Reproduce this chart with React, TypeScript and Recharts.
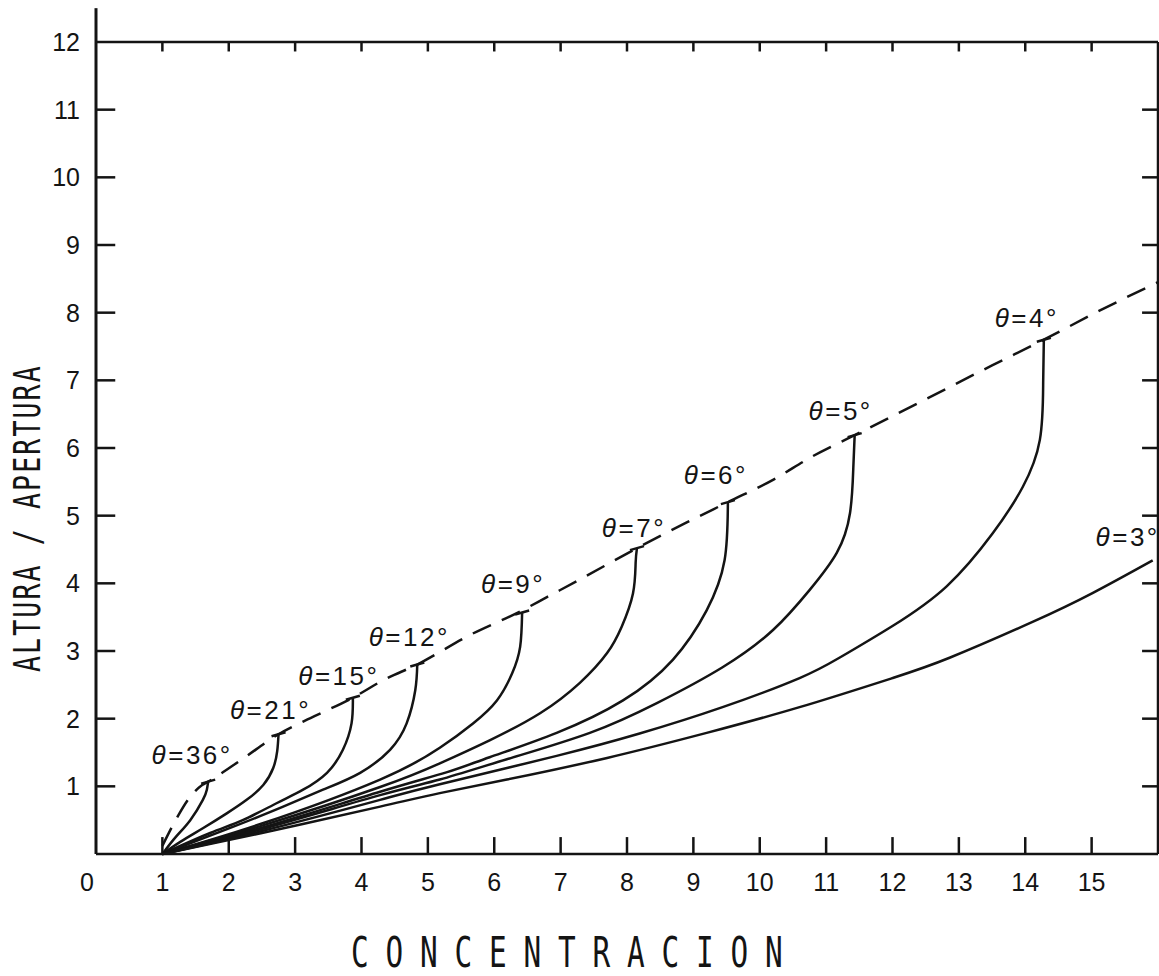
import React from 'react';
import { LineChart, Line, XAxis, YAxis, ReferenceLine } from 'recharts';

// ---- tick values ----
const X_TICKS = [0, 1, 2, 3, 4, 5, 6, 7, 8, 9, 10, 11, 12, 13, 14, 15, 16];
const X_INNER_TICKS = [1, 2, 3, 4, 5, 6, 7, 8, 9, 10, 11, 12, 13, 14, 15];
const Y_TICKS = [0, 1, 2, 3, 4, 5, 6, 7, 8, 9, 10, 11, 12];
const Y_INNER_TICKS = [1, 2, 3, 4, 5, 6, 7, 8, 9, 10, 11];

const X_TITLE = 'CONCENTRACION';
const Y_TITLE = 'ALTURA / APERTURA';

// ---- dashed envelope ----
const ENVELOPE_X = [1.0, 1.2, 1.4, 1.6, 1.69, 2.2, 2.75, 3.3, 3.87, 4.35, 4.84, 5.6, 6.42, 6.8, 7.24, 8.15, 8.9, 9.52, 10.2, 10.8, 11.43, 12.5, 13.5, 14.28, 15.1, 16];
const ENVELOPE_Y = [0.12, 0.5, 0.82, 1.02, 1.07, 1.4, 1.77, 2.04, 2.31, 2.58, 2.8, 3.22, 3.6, 3.8, 4.03, 4.52, 4.9, 5.2, 5.53, 5.88, 6.19, 6.72, 7.22, 7.6, 8.02, 8.45];

// ---- solid curves, one per angle ----
const T36_X = [1, 1.2, 1.42, 1.61, 1.67, 1.69];
const T36_Y = [0, 0.25, 0.5, 0.8, 0.95, 1.07];

const T21_X = [1, 1.27, 1.61, 1.97, 2.27, 2.52, 2.67, 2.73, 2.75];
const T21_Y = [0, 0.18, 0.38, 0.6, 0.8, 1.02, 1.27, 1.52, 1.77];

const T15_X = [1, 1.72, 2.21, 2.72, 3.12, 3.48, 3.72, 3.85, 3.87];
const T15_Y = [0, 0.31, 0.5, 0.75, 0.95, 1.2, 1.54, 1.93, 2.31];

const T12_X = [1, 2.06, 2.82, 3.42, 3.98, 4.43, 4.68, 4.81, 4.84];
const T12_Y = [0, 0.4, 0.7, 0.95, 1.2, 1.54, 1.93, 2.42, 2.8];

const T9_X = [1, 2.5, 4.28, 5.18, 5.68, 6.04, 6.27, 6.39, 6.42];
const T9_Y = [0, 0.45, 1.1, 1.57, 1.93, 2.27, 2.67, 3.06, 3.57];

const T7_X = [1, 2.5, 4.28, 5.18, 5.93, 6.69, 7.29, 7.7, 7.92, 8.09, 8.13, 8.15];
const T7_Y = [0, 0.42, 0.99, 1.34, 1.68, 2.08, 2.53, 2.97, 3.36, 3.85, 4.3, 4.52];

const T6_X = [1, 2.5, 4.28, 5.29, 5.93, 6.94, 7.94, 8.69, 9.2, 9.47, 9.52];
const T6_Y = [0, 0.39, 0.92, 1.21, 1.43, 1.79, 2.27, 2.87, 3.6, 4.34, 5.2];

const T5_X = [1, 2.5, 4.28, 5.18, 6.19, 7.44, 8.45, 9.44, 10.2, 10.75, 11.16, 11.36, 11.41, 11.43];
const T5_Y = [0, 0.37, 0.87, 1.1, 1.4, 1.79, 2.23, 2.76, 3.31, 3.9, 4.45, 5.04, 5.72, 6.19];

const T4_X = [1, 2.5, 4.28, 5.18, 6.94, 8.19, 9.44, 10.6, 11.2, 12.0, 12.82, 13.51, 13.96, 14.22, 14.27, 14.28];
const T4_Y = [0, 0.34, 0.8, 1.03, 1.45, 1.78, 2.17, 2.6, 2.9, 3.37, 3.96, 4.74, 5.42, 6.12, 6.96, 7.6];

const T3_X = [1, 2.5, 4.28, 5.18, 6.19, 7.7, 9.2, 10.6, 12.0, 12.86, 14.11, 15.02, 15.92];
const T3_Y = [0, 0.31, 0.7, 0.9, 1.1, 1.42, 1.79, 2.17, 2.6, 2.9, 3.43, 3.86, 4.34];

const ANGLES = ['36', '21', '15', '12', '9', '7', '6', '5', '4', '3'];
const CURVE_XS = [T36_X, T21_X, T15_X, T12_X, T9_X, T7_X, T6_X, T5_X, T4_X, T3_X];
const CURVE_YS = [T36_Y, T21_Y, T15_Y, T12_Y, T9_Y, T7_Y, T6_Y, T5_Y, T4_Y, T3_Y];

// label placement (pixel offsets from curve end) - styling only
const LABEL_DX = [-16, -8, -14, -8, -9, -3, -12, -14, -17, -25];
const LABEL_DY = [-27, -24, -22, -28, -28, -20, -27, -24, -22, -23];
const HAS_CAP = [true, true, true, true, true, true, true, true, true, false];

const toPoints = (xs: number[], ys: number[]) => xs.map((x, i) => ({ x, y: ys[i] }));

const INK = '#141414';
const LABEL_FONT = '"Liberation Sans", Arial, sans-serif';
const X_MIN = 0;
const X_MAX = 16;
const Y_MIN = 0;
const Y_MAX = 12;
// inward tick lengths, in axis units
const TICK_BOTTOM = 0.25;
const TICK_TOP = 0.14;
const TICK_LEFT = 0.29;
const TICK_RIGHT = 0.24;

const makeEndDot = (angle: string, lastIndex: number, dx: number, dy: number, cap: boolean) => (props: any) => {
  const { cx, cy, index } = props;
  const key = `end-${angle}-${index}`;
  if (index !== lastIndex || cx == null || cy == null) return <g key={key} />;
  return (
    <g key={key}>
      {cap && <line x1={cx - 7} y1={cy + 2} x2={cx + 7} y2={cy - 2} stroke={INK} strokeWidth={2.5} />}
      <text
        x={cx + dx}
        y={cy + dy}
        textAnchor="middle"
        dominantBaseline="central"
        fontFamily={LABEL_FONT}
        fontSize={26}
        letterSpacing={2.5}
        fill={INK}
      >
        <tspan fontStyle="italic">θ</tspan>={angle}°
      </text>
    </g>
  );
};

// bottom axis label
const XTick = (props: any) => {
  const { x, y, payload } = props;
  const v = payload?.value;
  if (v === 16) return <g />;
  return (
    <text
      x={x + (v === 0 ? -9 : 0)}
      y={y + 28}
      textAnchor="middle"
      dominantBaseline="central"
      fontFamily={LABEL_FONT}
      fontSize={25}
      fill={INK}
    >
      {v}
    </text>
  );
};

// left axis label
const YTick = (props: any) => {
  const { x, y, payload } = props;
  const v = payload?.value;
  if (v === 0) return <g />;
  return (
    <text x={x - 16} y={y} textAnchor="end" dominantBaseline="central" fontFamily={LABEL_FONT} fontSize={25} fill={INK}>
      {v}
    </text>
  );
};

export default function App() {
  const W = 1159;
  const H = 976;
  return (
    <div style={{ position: 'absolute', left: 0, top: 0, width: W, height: H, background: '#fff' }}>
      <LineChart width={W} height={H} margin={{ top: 41, right: 0, left: 0, bottom: 0 }}>
        <XAxis
          dataKey="x"
          type="number"
          domain={[X_MIN, X_MAX]}
          ticks={X_TICKS}
          interval={0}
          height={122}
          tickSize={0}
          tickMargin={0}
          axisLine={{ stroke: INK, strokeWidth: 2.5 }}
          tickLine={false}
          tick={<XTick />}
        />
        <XAxis
          xAxisId="top"
          orientation="top"
          dataKey="x"
          type="number"
          domain={[X_MIN, X_MAX]}
          height={1}
          axisLine={{ stroke: INK, strokeWidth: 2.5 }}
          tickLine={false}
          tick={false}
        />
        <YAxis
          type="number"
          domain={[Y_MIN, Y_MAX]}
          ticks={Y_TICKS}
          interval={0}
          width={96}
          tickSize={0}
          tickMargin={0}
          axisLine={{ stroke: INK, strokeWidth: 3 }}
          tickLine={false}
          tick={<YTick />}
        />
        <YAxis
          yAxisId="right"
          orientation="right"
          type="number"
          domain={[Y_MIN, Y_MAX]}
          width={1}
          axisLine={{ stroke: INK, strokeWidth: 2.5 }}
          tickLine={false}
          tick={false}
        />
        <ReferenceLine
          segment={[{ x: X_MIN, y: Y_MAX }, { x: X_MIN, y: Y_MAX + 0.5 }]}
          ifOverflow="visible"
          stroke={INK}
          strokeWidth={3}
        />
        {X_INNER_TICKS.map((t) => (
          <ReferenceLine
            key={`bt-${t}`}
            segment={[{ x: t, y: Y_MIN }, { x: t, y: Y_MIN + TICK_BOTTOM }]}
            ifOverflow="visible"
            stroke={INK}
            strokeWidth={2.5}
          />
        ))}
        {X_INNER_TICKS.map((t) => (
          <ReferenceLine
            key={`tt-${t}`}
            segment={[{ x: t, y: Y_MAX }, { x: t, y: Y_MAX - TICK_TOP }]}
            ifOverflow="visible"
            stroke={INK}
            strokeWidth={2.5}
          />
        ))}
        {Y_INNER_TICKS.map((t) => (
          <ReferenceLine
            key={`lt-${t}`}
            segment={[{ x: X_MIN, y: t }, { x: X_MIN + TICK_LEFT, y: t }]}
            ifOverflow="visible"
            stroke={INK}
            strokeWidth={2.5}
          />
        ))}
        {Y_INNER_TICKS.map((t) => (
          <ReferenceLine
            key={`rt-${t}`}
            segment={[{ x: X_MAX, y: t }, { x: X_MAX - TICK_RIGHT, y: t }]}
            ifOverflow="visible"
            stroke={INK}
            strokeWidth={2.5}
          />
        ))}
        {/* invisible series that binds the frame axes (top / right) */}
        <Line
          xAxisId="top"
          yAxisId="right"
          data={toPoints(ENVELOPE_X, ENVELOPE_Y)}
          dataKey="y"
          stroke="none"
          dot={false}
          activeDot={false}
          isAnimationActive={false}
        />
        <Line
          data={toPoints(ENVELOPE_X, ENVELOPE_Y)}
          dataKey="y"
          type="monotone"
          stroke={INK}
          strokeWidth={2.5}
          strokeDasharray="20 12"
          dot={false}
          activeDot={false}
          isAnimationActive={false}
        />
        {ANGLES.map((a, i) => (
          <Line
            key={a}
            data={toPoints(CURVE_XS[i], CURVE_YS[i])}
            dataKey="y"
            type="natural"
            stroke={INK}
            strokeWidth={2.5}
            dot={makeEndDot(a, CURVE_XS[i].length - 1, LABEL_DX[i], LABEL_DY[i], HAS_CAP[i])}
            activeDot={false}
            isAnimationActive={false}
          />
        ))}
      </LineChart>
      <svg
        width={W}
        height={H}
        style={{ position: 'absolute', left: 0, top: 0, pointerEvents: 'none' }}
      >
        <text
          transform="translate(40, 672) rotate(-90) scale(0.7, 1)"
          x={0}
          y={0}
          textAnchor="start"
          fontFamily='"DejaVu Sans Mono", monospace'
          fontSize={38}
          letterSpacing={3}
          fill={INK}
        >
          {Y_TITLE}
        </text>
        <text
          transform="translate(351, 967) scale(0.7, 1)"
          x={0}
          y={0}
          textAnchor="start"
          fontFamily='"DejaVu Sans Mono", monospace'
          fontSize={42}
          letterSpacing={24}
          fill={INK}
        >
          {X_TITLE}
        </text>
      </svg>
    </div>
  );
}
